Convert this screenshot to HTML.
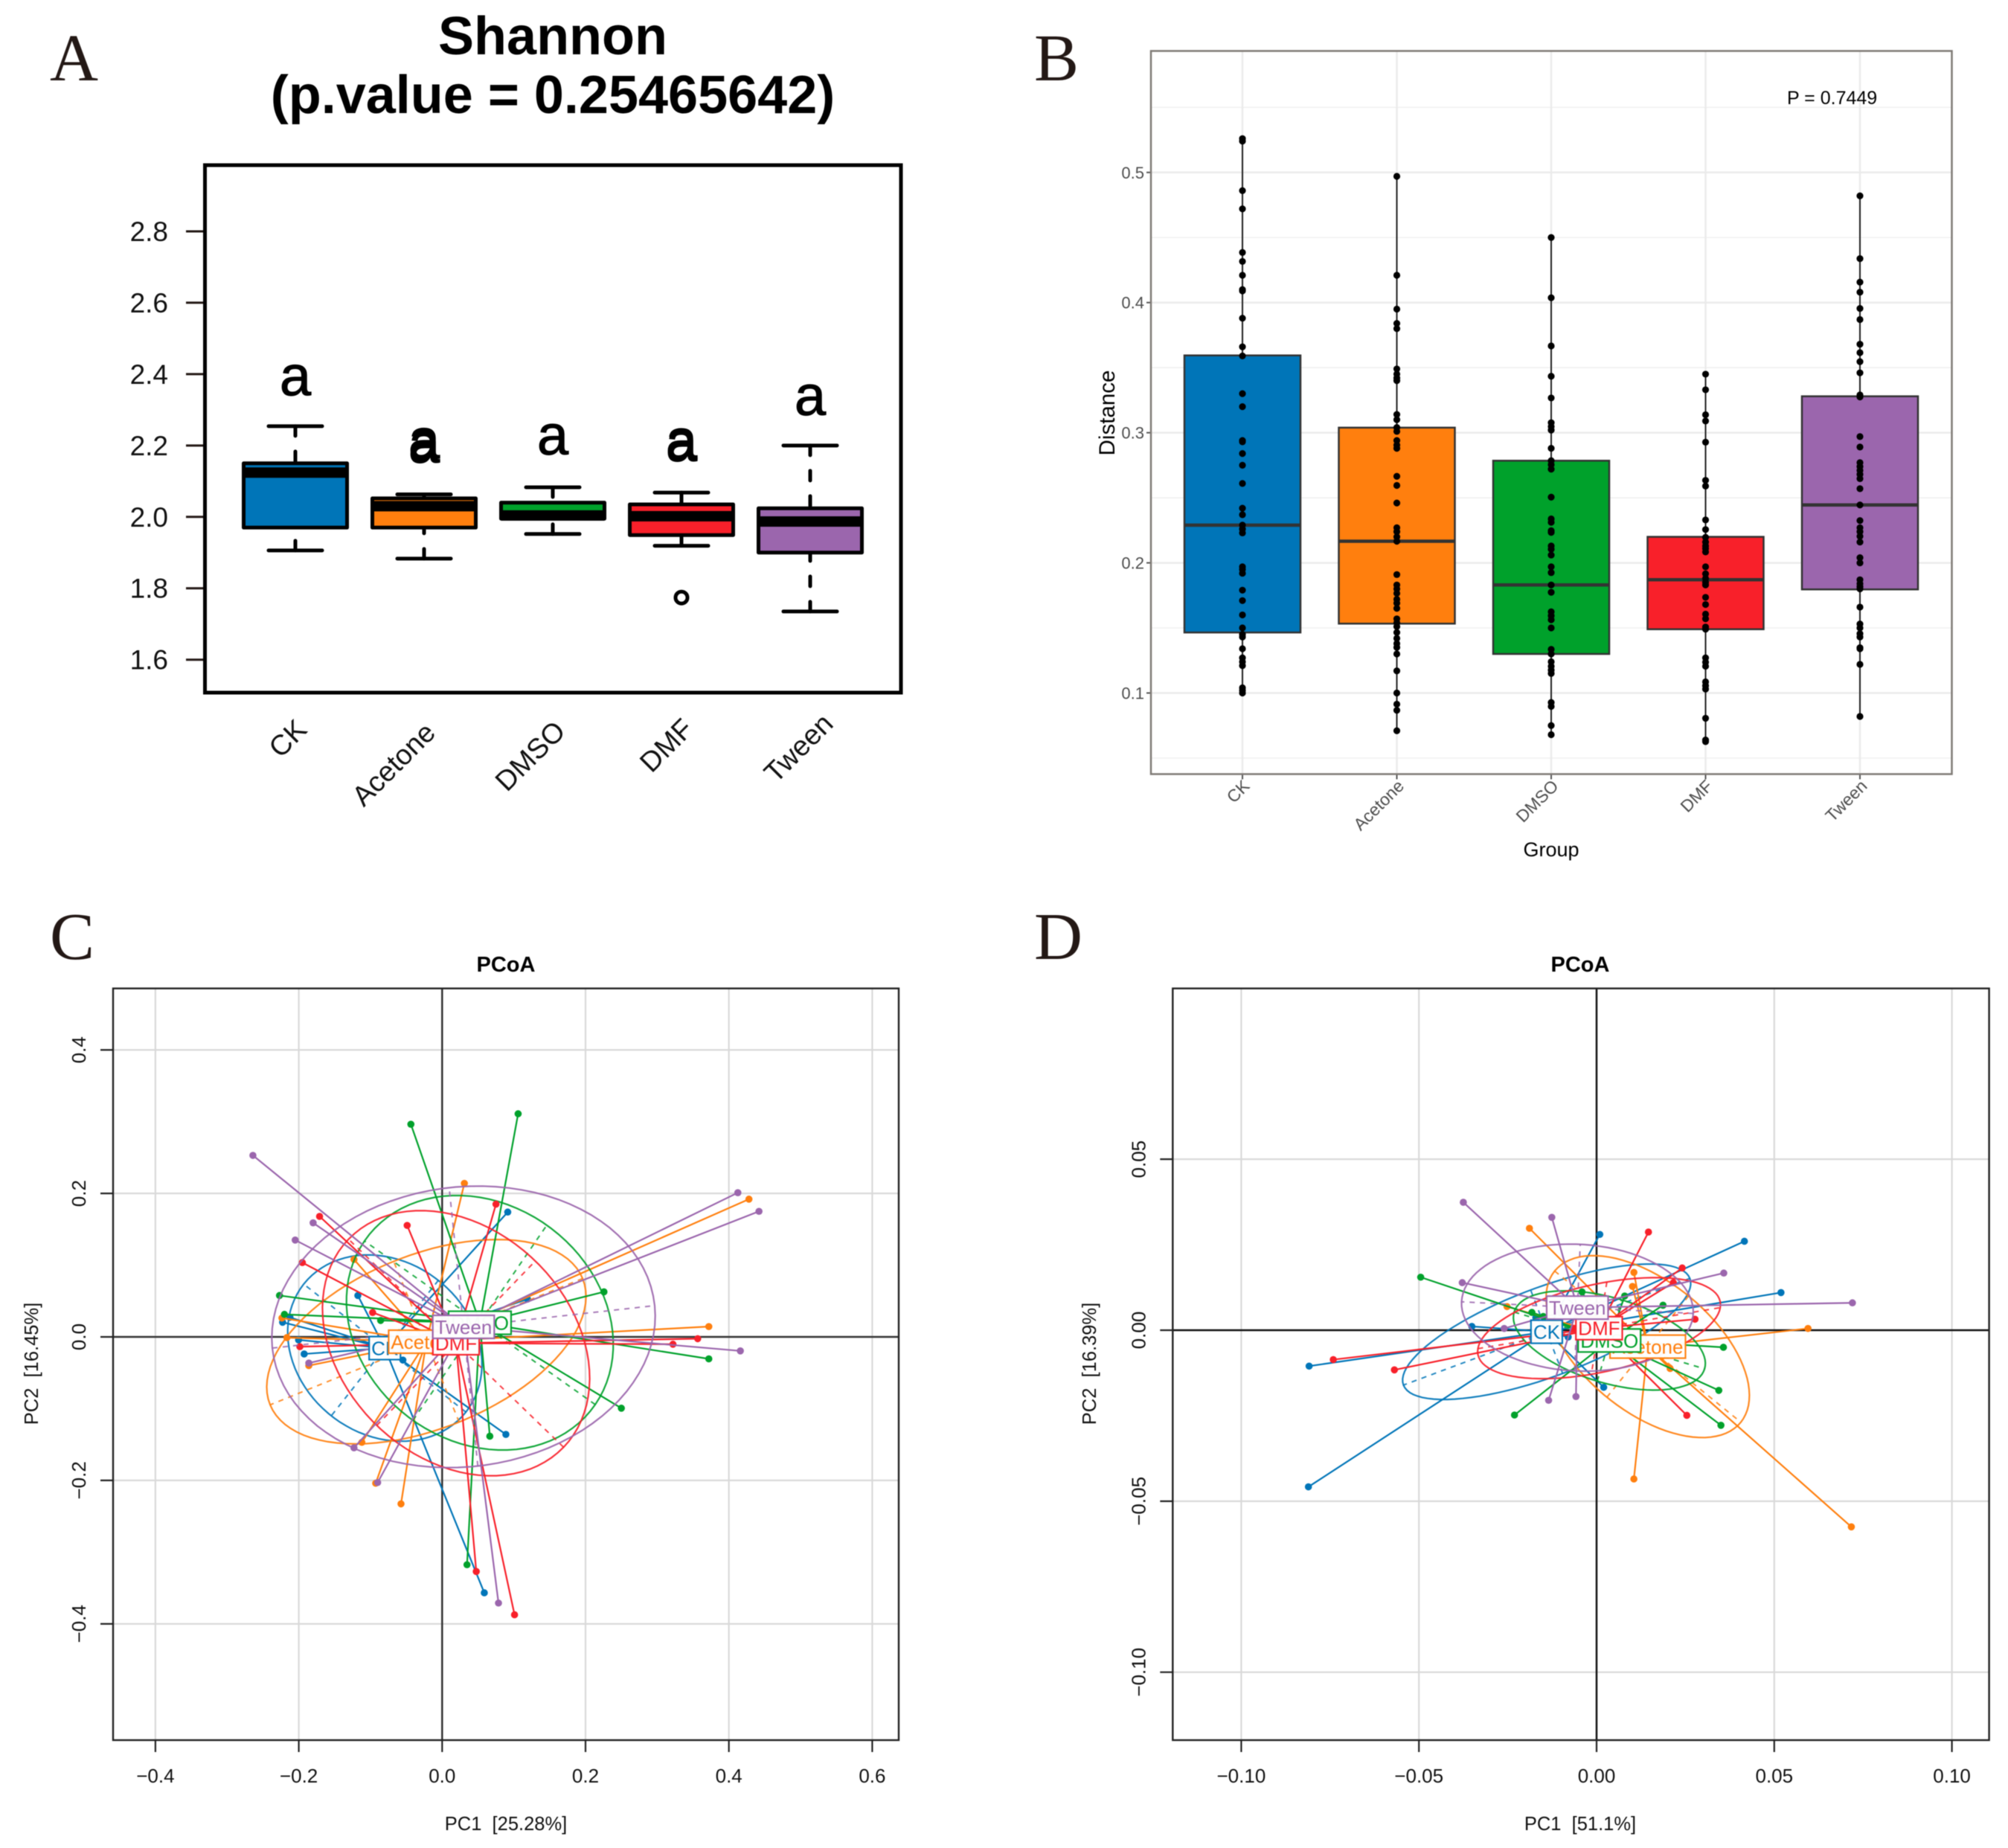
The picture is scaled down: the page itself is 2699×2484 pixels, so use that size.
<!DOCTYPE html>
<html>
<head>
<meta charset="utf-8">
<title>Shannon, distance and PCoA panels</title>
<style>
html,body{margin:0;padding:0;background:#fff;}
svg{display:block;font-family:"Liberation Sans",sans-serif;filter:blur(0.6px);}
.serif{font-family:"Liberation Serif",serif;fill:#231815;}
</style>
</head>
<body>
<svg id="fig" xmlns="http://www.w3.org/2000/svg" width="2699" height="2484" viewBox="0 0 2699 2484">
<rect width="2699" height="2484" fill="#fff"/>
<text class="serif" x="67" y="108" font-size="90">A</text>
<text class="serif" x="1390" y="108" font-size="90">B</text>
<text class="serif" x="67" y="1289" font-size="90">C</text>
<text class="serif" x="1390" y="1289" font-size="90">D</text>
<g id="panelA">
<text x="743" y="73" font-size="72" font-weight="700" text-anchor="middle" fill="#000">Shannon</text>
<text x="743" y="152" font-size="72" font-weight="700" text-anchor="middle" fill="#000">(p.value = 0.25465642)</text>
</g>
<g id="panelB">
<text x="2085" y="1151" font-size="27" text-anchor="middle" fill="#000">Group</text>
<text x="1498" y="555" font-size="29.5" text-anchor="middle" fill="#000" transform="rotate(-90 1498 555)">Distance</text>
</g>
<g id="panelC">
<text x="680" y="1306" font-size="29" font-weight="700" text-anchor="middle" fill="#000">PCoA</text>
<text x="680" y="2460" font-size="25.5" text-anchor="middle" fill="#111" xml:space="preserve">PC1  [25.28%]</text>
<text x="51" y="1833" font-size="25.5" text-anchor="middle" fill="#111" xml:space="preserve" transform="rotate(-90 51 1833)">PC2  [16.45%]</text>
</g>
<g id="panelD">
<text x="2124" y="1306" font-size="29" font-weight="700" text-anchor="middle" fill="#000">PCoA</text>
<text x="2124" y="2460" font-size="25.5" text-anchor="middle" fill="#111" xml:space="preserve">PC1  [51.1%]</text>
<text x="1473" y="1833" font-size="25.5" text-anchor="middle" fill="#111" xml:space="preserve" transform="rotate(-90 1473 1833)">PC2  [16.39%]</text>
</g>
</svg>
<script>
// ---------- shared categories ----------
const categories = ['CK', 'Acetone', 'DMSO', 'DMF', 'Tween'];

// ---------- panel A values ----------
const aTicks = [1.6, 1.8, 2.0, 2.2, 2.4, 2.6, 2.8];
const aWhiskerHigh = [2.254, 2.063, 2.083, 2.068, 2.2];
const aBoxTop = [2.15, 2.052, 2.04, 2.035, 2.024];
const aMedian = [2.124, 2.03, 2.004, 2.002, 1.987];
const aBoxBottom = [1.97, 1.97, 1.995, 1.949, 1.9];
const aWhiskerLow = [1.906, 1.883, 1.952, 1.919, 1.735];
const aOutliers = [[], [], [], [1.774], []];
const aLetters = [[2.34], [2.163, 2.152], [2.175], [2.162, 2.156], [2.285]];

// ---------- panel B values ----------
const bTicks = [0.1, 0.2, 0.3, 0.4, 0.5];
const bMinorTicks = [0.05, 0.15, 0.25, 0.35, 0.45, 0.55];
const bBoxTop = [0.3594, 0.3039, 0.2785, 0.22, 0.328];
const bMedian = [0.229, 0.2166, 0.183, 0.187, 0.2445];
const bBoxBottom = [0.1465, 0.1533, 0.13, 0.149, 0.1796];
const bCkPoints = [0.526,0.524,0.486,0.472,0.4385,0.4316,0.421,0.41,0.409,0.388,0.366,0.359,0.33,0.32,0.294,0.293,0.284,0.275,0.261,0.242,0.237,0.229,0.226,0.223,0.197,0.195,0.192,0.179,0.171,0.16,0.15,0.145,0.143,0.134,0.127,0.124,0.121,0.104,0.102,0.1];
const bAcetonePoints = [0.497,0.421,0.395,0.384,0.38,0.349,0.345,0.342,0.34,0.314,0.31,0.304,0.301,0.294,0.2905,0.288,0.2665,0.2595,0.246,0.227,0.224,0.22,0.2166,0.191,0.183,0.18,0.1766,0.172,0.169,0.165,0.157,0.154,0.151,0.1465,0.142,0.138,0.135,0.13,0.117,0.1,0.0914,0.0867,0.071];
const bDmsoPoints = [0.45,0.4037,0.3667,0.3434,0.3267,0.3077,0.3047,0.302,0.288,0.2785,0.2755,0.272,0.2505,0.2338,0.2312,0.2247,0.2234,0.213,0.2105,0.206,0.197,0.1925,0.183,0.1774,0.1624,0.1594,0.1563,0.15,0.1335,0.13,0.124,0.1206,0.1176,0.115,0.0927,0.0897,0.075,0.068];
const bDmfPoints = [0.345,0.333,0.3138,0.309,0.2927,0.2634,0.259,0.233,0.2256,0.2196,0.216,0.213,0.211,0.2084,0.197,0.1916,0.188,0.185,0.183,0.1735,0.168,0.1606,0.157,0.1507,0.149,0.127,0.1237,0.1206,0.1086,0.1056,0.103,0.0806,0.0639,0.0626];
const bTweenPoints = [0.482,0.4338,0.4157,0.408,0.3955,0.387,0.368,0.3615,0.3546,0.346,0.329,0.3275,0.297,0.289,0.277,0.274,0.271,0.268,0.2647,0.257,0.2445,0.2325,0.227,0.224,0.2204,0.216,0.204,0.2,0.187,0.184,0.1817,0.18,0.166,0.153,0.15,0.1456,0.143,0.1348,0.134,0.122,0.082];

// ---------- panel C values ----------
const cXTicks = [-0.4, -0.2, 0, 0.2, 0.4, 0.6];
const cYTicks = [-0.4, -0.2, 0, 0.2, 0.4];
const cCkPC1 = [0.0915,0.119,-0.1176,-0.2123,-0.2226,-0.2003,-0.1925,-0.0548,0.0889,0.0588];
const cCkPC2 = [0.174,0.0527,0.0577,0.0272,0.0204,-0.0042,-0.0238,-0.0323,-0.1359,-0.3567];
const cAcetonePC1 = [0.031,0.428,-0.123,0.372,-0.2166,-0.186,-0.112,-0.0927,-0.0574,-0.2235];
const cAcetonePC2 = [0.214,0.192,0.108,0.0144,-0.001,-0.04,-0.147,-0.204,-0.2327,0.0263];
const cDmsoPC1 = [-0.0436,0.106,0.2257,-0.2269,-0.22,-0.0858,0.372,0.25,0.0665,0.0347];
const cDmsoPC2 = [0.2964,0.311,0.0628,0.0577,0.0314,0.0229,-0.0306,-0.0994,-0.1384,-0.3176];
const cDmfPC1 = [0.0751,-0.0488,-0.171,-0.195,-0.097,-0.1985,0.3565,0.322,0.0476,0.101];
const cDmfPC2 = [0.185,0.1554,0.168,0.1036,0.034,-0.0136,-0.0025,-0.0102,-0.327,-0.3873];
const cTweenPC1 = [-0.264,0.4125,0.442,-0.18,-0.205,0.416,-0.123,-0.09,0.0786,-0.186];
const cTweenPC2 = [0.253,0.201,0.175,0.159,0.135,-0.0195,-0.1546,-0.203,-0.371,-0.0365];
const cCentroidPC1 = [-0.08, -0.022, 0.0526, 0.0194, 0.0298];
const cCentroidPC2 = [-0.0156, -0.0067, 0.0197, -0.0088, 0.014];
const cMajorPC1 = [-0.1131, -0.218, -0.161, -0.15, 0.2667];
const cMajorPC2 = [0.0892, -0.088, 0.114, 0.145, 0.0296];
const cMinorPC1 = [-0.0747, -0.0457, 0.0934, 0.1106, -0.02];
const cMinorPC2 = [-0.0944, 0.112, 0.136, 0.1146, 0.194];

// ---------- panel D values ----------
const dXTicks = [-0.1, -0.05, 0, 0.05, 0.1];
const dYTicks = [-0.1, -0.05, 0, 0.05];
const dCkPC1 = [0.0009,0.0416,0.0519,-0.0809,-0.0811,-0.0351,0.002,-0.0171,-0.012,-0.008];
const dCkPC2 = [0.028,0.026,0.011,-0.0105,-0.0458,0.0011,-0.0167,0.0037,0.002,-0.002];
const dAcetonePC1 = [-0.0189,0.0105,0.0101,-0.0252,0.0595,0.0207,0.0105,0.0717,0.005,0.012];
const dAcetonePC2 = [0.0298,0.0169,0.0128,0.0069,0.0005,-0.0112,-0.0435,-0.0575,0,-0.004];
const dDmsoPC1 = [-0.0495,-0.0041,0.0079,0.0187,-0.0182,0.0357,0.0344,0.035,-0.0231,-0.015];
const dDmsoPC2 = [0.0155,0.0112,0.01,0.0073,0.0052,-0.005,-0.0176,-0.0278,-0.0248,0.004];
const dDmfPC1 = [0.0146,0.0241,0.0216,0.0277,0.0254,-0.0741,-0.0569,-0.0063,-0.0036,0.0009];
const dDmfPC2 = [0.0287,0.0182,0.0139,0.0032,-0.0249,-0.0086,-0.0116,0.0005,0.0032,-0.0012];
const dTweenPC1 = [-0.0375,-0.0126,-0.0378,0.0358,0.072,-0.026,-0.0135,-0.0058,-0.01,-0.004];
const dTweenPC2 = [0.0374,0.033,0.0139,0.0167,0.008,0.0005,-0.0205,-0.0194,0.005,-0.003];
const dCentroidPC1 = [-0.01405, 0.0144, 0.0036, 0.0007, -0.0054];
const dCentroidPC2 = [-0.00045, -0.0048, -0.003, 0.0006, 0.0066];
const dMajorPC1 = [-0.0403, 0.0262, 0.0268, 0.0341, -0.0326];
const dMajorPC2 = [-0.0156, -0.0221, -0.0083, 0.006, 0.0017];
const dMinorPC1 = [-0.0045, 0.0115, 0.0034, -0.0022, 0.0008];
const dMinorPC2 = [0.0122, 0.0148, 0.0119, -0.0135, 0.0185];

// ---------- styling (separate from data) ----------
const palette = ['#0075b8', '#ff7f0e', '#00a12b', '#f8202a', '#9b66ad'];

const SVGNS = 'http://www.w3.org/2000/svg';
function mk(parent, tag, attrs, txt) {
  const node = document.createElementNS(SVGNS, tag);
  for (const k in attrs) node.setAttribute(k, attrs[k]);
  if (txt !== undefined) node.textContent = txt;
  parent.appendChild(node);
  return node;
}
function slug(s) { return s.toLowerCase(); }

// ---------- axis functions ----------
const aY = v => 886.7 - (v - 1.6) * 479.8;
const aX = i => 397 + 173 * i;
const bY = v => 931.5 - (v - 0.1) * 1749.3;
const bX = i => 1670 + 207.5 * i;
const cX = v => 594.3 + v * 963.5;
const cY = v => 1797 - v * 964.3;
const dX = v => 2146 + v * 4776;
const dY = v => 1788 - v * 4597;

// ---------- panel A ----------
(function drawA() {
  const root = document.getElementById('panelA');
  const FL = 275.5, FR = 1211, FT = 222, FB = 931;
  const labelDx = [17.5, 17.5, 19, 18, 33];
  const labelBase = [983, 987, 985, 982, 975];
  aTicks.forEach(t => {
    let el = mk(root, 'line', {x1: 250, x2: FL, y1: aY(t), y2: aY(t), stroke: '#231815', 'stroke-width': 3});
    
    
    el = mk(root, 'text', {x: 226, y: aY(t) + 13, 'font-size': 37, 'text-anchor': 'end', fill: '#111'}, t.toFixed(1));
    
    
  });
  categories.forEach((c, i) => {
    const x = aX(i), hw = 69.5, cap = 36;
    let el = mk(root, 'line', {x1: x, x2: x, y1: aY(aWhiskerHigh[i]), y2: aY(aBoxTop[i]), stroke: '#000', 'stroke-width': 5, 'stroke-dasharray': '13 21', 'stroke-linecap': 'round'});
    
    
    el = mk(root, 'line', {x1: x, x2: x, y1: aY(aWhiskerLow[i]), y2: aY(aBoxBottom[i]), stroke: '#000', 'stroke-width': 5, 'stroke-dasharray': '13 21', 'stroke-linecap': 'round'});
    
    
    el = mk(root, 'line', {x1: x - cap, x2: x + cap, y1: aY(aWhiskerHigh[i]), y2: aY(aWhiskerHigh[i]), stroke: '#000', 'stroke-width': 5, 'stroke-linecap': 'round'});
    
    
    el = mk(root, 'line', {x1: x - cap, x2: x + cap, y1: aY(aWhiskerLow[i]), y2: aY(aWhiskerLow[i]), stroke: '#000', 'stroke-width': 5, 'stroke-linecap': 'round'});
    
    
    el = mk(root, 'rect', {x: x - hw, y: aY(aBoxTop[i]), width: hw * 2, height: aY(aBoxBottom[i]) - aY(aBoxTop[i]), fill: palette[i], stroke: '#000', 'stroke-width': 5, 'stroke-linejoin': 'round'});
    
    
    el = mk(root, 'line', {x1: x - hw, x2: x + hw, y1: aY(aMedian[i]), y2: aY(aMedian[i]), stroke: '#000', 'stroke-width': 14});
    
    
    aOutliers[i].forEach(v => {
      const o = mk(root, 'circle', {cx: x, cy: aY(v), r: 8, fill: 'none', stroke: '#000', 'stroke-width': 5});
      
      
    });
    aLetters[i].forEach(v => {
      const o = mk(root, 'text', {x: x, y: aY(v), 'font-size': 76, 'text-anchor': 'middle', fill: '#000', stroke: '#000', 'stroke-width': 1});
      o.textContent = 'a';
      
      
    });
    const lx = x + labelDx[i], ly = labelBase[i];
    el = mk(root, 'text', {x: lx, y: ly, 'font-size': 38, 'text-anchor': 'end', fill: '#111', transform: 'rotate(-45 ' + lx + ' ' + ly + ')'}, c);
    
    
  });
  const fr = mk(root, 'rect', {x: FL, y: FT, width: FR - FL, height: FB - FT, fill: 'none', stroke: '#000', 'stroke-width': 5});
  
  
})();

// ---------- panel B ----------
(function drawB() {
  const root = document.getElementById('panelB');
  const FL = 1547, FR = 2623.5, FT = 68.5, FB = 1040.5;
  const sets = [bCkPoints, bAcetonePoints, bDmsoPoints, bDmfPoints, bTweenPoints];
  bMinorTicks.forEach(t => {
    const el = mk(root, 'line', {x1: FL, x2: FR, y1: bY(t), y2: bY(t), stroke: '#f0f0f0', 'stroke-width': 1.5});
    
    
  });
  bTicks.forEach(t => {
    let el = mk(root, 'line', {x1: FL, x2: FR, y1: bY(t), y2: bY(t), stroke: '#ebebeb', 'stroke-width': 2.5});
    
    
    el = mk(root, 'line', {x1: FL - 6, x2: FL, y1: bY(t), y2: bY(t), stroke: '#555', 'stroke-width': 2});
    
    
    el = mk(root, 'text', {x: 1538, y: bY(t) + 8, 'font-size': 22, 'text-anchor': 'end', fill: '#4d4d4d'}, t.toFixed(1));
    
    
  });
  categories.forEach((c, i) => {
    const x = bX(i);
    let el = mk(root, 'line', {x1: x, x2: x, y1: FT, y2: FB, stroke: '#ebebeb', 'stroke-width': 2.5});
    
    
  });
  categories.forEach((c, i) => {
    const x = bX(i), hw = 78, pts = sets[i];
    let el = mk(root, 'line', {x1: x, x2: x, y1: bY(Math.max(...pts)), y2: bY(Math.min(...pts)), stroke: '#222', 'stroke-width': 2});
    
    
    el = mk(root, 'rect', {x: x - hw, y: bY(bBoxTop[i]), width: hw * 2, height: bY(bBoxBottom[i]) - bY(bBoxTop[i]), fill: palette[i], stroke: '#333', 'stroke-width': 2.5});
    
    
    el = mk(root, 'line', {x1: x - hw, x2: x + hw, y1: bY(bMedian[i]), y2: bY(bMedian[i]), stroke: '#333', 'stroke-width': 4.5});
    
    
    pts.forEach(v => {
      const p = mk(root, 'circle', {cx: x, cy: bY(v), r: 4.6, fill: '#000'});
      
      
    });
    el = mk(root, 'line', {x1: x, x2: x, y1: FB, y2: FB + 7, stroke: '#555', 'stroke-width': 2});
    
    
    const lx = x + 11, ly = 1058;
    el = mk(root, 'text', {x: lx, y: ly, 'font-size': 23, 'text-anchor': 'end', fill: '#4d4d4d', transform: 'rotate(-45 ' + lx + ' ' + ly + ')'}, c);
    
    
  });
  let f = mk(root, 'rect', {x: FL, y: FT, width: FR - FL, height: FB - FT, fill: 'none', stroke: '#7f7a75', 'stroke-width': 2.5});
  
  
  f = mk(root, 'text', {x: 2402, y: 140, 'font-size': 25, fill: '#000'}, 'P = 0.7449');
  
  
})();

// ---------- ordination panels ----------
function drawOrdination(cfg) {
  const root = document.getElementById(cfg.rootId);
  const X = cfg.x, Y = cfg.y, pre = cfg.prefix;
  const FL = cfg.left, FR = cfg.right, FT = 1328.6, FB = 2339;
  cfg.xTicks.forEach(t => {
    const el = mk(root, 'line', {x1: X(t), x2: X(t), y1: FT, y2: FB, stroke: '#d9d9d9', 'stroke-width': 2.2});
    
    
  });
  cfg.yTicks.forEach(t => {
    const el = mk(root, 'line', {x1: FL, x2: FR, y1: Y(t), y2: Y(t), stroke: '#d9d9d9', 'stroke-width': 2.2});
    
    
  });
  let z = mk(root, 'line', {x1: X(0), x2: X(0), y1: FT, y2: FB, stroke: cfg.zero, 'stroke-width': 2.5});
  
  
  z = mk(root, 'line', {x1: FL, x2: FR, y1: Y(0), y2: Y(0), stroke: cfg.zero, 'stroke-width': 2.5});
  
  

  categories.forEach((c, i) => {
    const col = palette[i], pc1 = cfg.pc1[i], pc2 = cfg.pc2[i];
    const c1 = cfg.cx[i], c2 = cfg.cy[i];
    const a1 = cfg.maj1[i], a2 = cfg.maj2[i], b1 = cfg.min1[i], b2 = cfg.min2[i];
    // ellipse
    let d = '';
    for (let deg = 0; deg <= 360; deg += 4) {
      const t = deg * Math.PI / 180;
      const vx = c1 + a1 * Math.cos(t) + b1 * Math.sin(t);
      const vy = c2 + a2 * Math.cos(t) + b2 * Math.sin(t);
      d += (deg ? 'L' : 'M') + X(vx).toFixed(1) + ' ' + Y(vy).toFixed(1);
    }
    let el = mk(root, 'path', {d: d + 'Z', fill: 'none', stroke: col, 'stroke-width': 2.2, opacity: 0.92});
    
    
    // dashed ellipse axes
    el = mk(root, 'line', {x1: X(c1 - a1), y1: Y(c2 - a2), x2: X(c1 + a1), y2: Y(c2 + a2), stroke: col, 'stroke-width': 2, 'stroke-dasharray': '7 7', opacity: 0.85});
    
    
    el = mk(root, 'line', {x1: X(c1 - b1), y1: Y(c2 - b2), x2: X(c1 + b1), y2: Y(c2 + b2), stroke: col, 'stroke-width': 2, 'stroke-dasharray': '7 7', opacity: 0.85});
    
    
    // spider + points
    pc1.forEach((v, k) => {
      const s = mk(root, 'line', {x1: X(c1), y1: Y(c2), x2: X(v), y2: Y(pc2[k]), stroke: col, 'stroke-width': 2.2});
      
      
    });
    pc1.forEach((v, k) => {
      const p = mk(root, 'circle', {cx: X(v), cy: Y(pc2[k]), r: 4.8, fill: col});
      
      
    });
  });
  // group labels
  categories.forEach((c, i) => {
    const col = palette[i];
    const x = X(cfg.cx[i]), y = Y(cfg.cy[i]);
    const box = mk(root, 'rect', {x: x, y: y - 15.5, width: 10, height: 31, fill: '#fff', stroke: col, 'stroke-width': 2.2, opacity: 0.97});
    
    
    const tx = mk(root, 'text', {x: x, y: y + 9.5, 'font-size': 26, 'text-anchor': 'middle', fill: col}, c);
    
    
    const w = tx.getComputedTextLength() + 6;
    box.setAttribute('x', x - w / 2);
    box.setAttribute('width', w);
  });
  // axes
  const fr = mk(root, 'rect', {x: FL, y: FT, width: FR - FL, height: FB - FT, fill: 'none', stroke: '#222', 'stroke-width': 2.4});
  
  
  cfg.xTicks.forEach(t => {
    let el = mk(root, 'line', {x1: X(t), x2: X(t), y1: FB, y2: FB + 16, stroke: '#222', 'stroke-width': 2.2});
    
    
    el = mk(root, 'text', {x: X(t), y: 2396, 'font-size': 26, 'text-anchor': 'middle', fill: '#111'}, (t < 0 ? '\u2212' : '') + Math.abs(t).toFixed(cfg.digits));
    
    
  });
  cfg.yTicks.forEach(t => {
    let el = mk(root, 'line', {x1: FL - 17, x2: FL, y1: Y(t), y2: Y(t), stroke: '#222', 'stroke-width': 2.2});
    
    
    const lx = FL - 37, ly = Y(t);
    el = mk(root, 'text', {x: lx, y: ly, 'font-size': 26, 'text-anchor': 'middle', fill: '#111', transform: 'rotate(-90 ' + lx + ' ' + ly + ')'}, (t < 0 ? '\u2212' : '') + Math.abs(t).toFixed(cfg.digits));
    
    
  });
}

drawOrdination({
  rootId: 'panelC', prefix: 'pcoa-c', x: cX, y: cY, left: 152, right: 1208, zero: '#333', digits: 1,
  xTicks: cXTicks, yTicks: cYTicks,
  pc1: [cCkPC1, cAcetonePC1, cDmsoPC1, cDmfPC1, cTweenPC1],
  pc2: [cCkPC2, cAcetonePC2, cDmsoPC2, cDmfPC2, cTweenPC2],
  cx: cCentroidPC1, cy: cCentroidPC2,
  maj1: cMajorPC1, maj2: cMajorPC2, min1: cMinorPC1, min2: cMinorPC2
});
drawOrdination({
  rootId: 'panelD', prefix: 'pcoa-d', x: dX, y: dY, left: 1576.3, right: 2673.6, zero: '#111', digits: 2,
  xTicks: dXTicks, yTicks: dYTicks,
  pc1: [dCkPC1, dAcetonePC1, dDmsoPC1, dDmfPC1, dTweenPC1],
  pc2: [dCkPC2, dAcetonePC2, dDmsoPC2, dDmfPC2, dTweenPC2],
  cx: dCentroidPC1, cy: dCentroidPC2,
  maj1: dMajorPC1, maj2: dMajorPC2, min1: dMinorPC1, min2: dMinorPC2
});
</script>
</body>
</html>
